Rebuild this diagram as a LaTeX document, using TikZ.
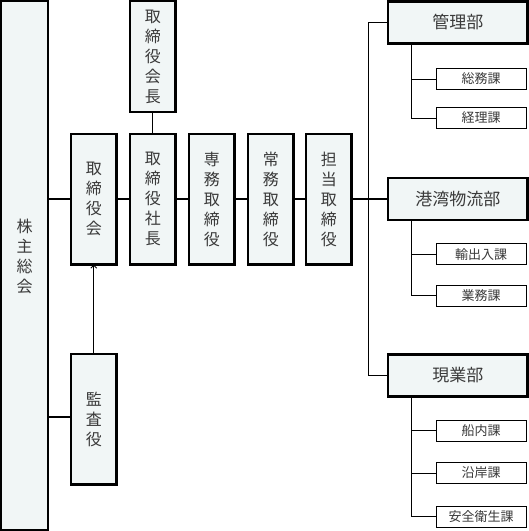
\documentclass[tikz,border=0pt]{standalone}
\usepackage{fontspec}
\newfontfamily\jp{Noto Sans CJK JP}
\usetikzlibrary{arrows.meta}
\definecolor{boxfill}{RGB}{241,246,246}
\definecolor{txt}{RGB}{58,58,58}
\begin{document}
\begin{tikzpicture}[x=1pt,y=-1pt,
  mainbox/.style={draw=black, line width=2.4pt, fill=boxfill, inner sep=0pt, outer sep=0pt,
    text=txt, font=\jp\fontsize{16}{20}\selectfont, align=center,
    minimum width=45.1pt, minimum height=130.6pt},
  vtext/.style={inner sep=0pt, text=txt, font=\jp\fontsize{16}{20}\selectfont, align=center},
  deptbox/.style={draw=black, line width=2.4pt, fill=boxfill, inner sep=0pt, outer sep=0pt,
    text=txt, font=\jp\fontsize{17}{20}\selectfont,
    minimum width=139.1pt, minimum height=42pt},
  secbox/.style={draw=black, line width=1pt, fill=white, inner sep=0pt, outer sep=0pt,
    text=txt, font=\jp\fontsize{13}{15}\selectfont,
    minimum width=90pt, minimum height=21pt},
  thickline/.style={line width=2pt},
  thinline/.style={line width=1pt}]
\useasboundingbox (0,0) rectangle (529,531);
% main boxes
\node[mainbox, minimum width=46.6pt, minimum height=528.6pt] (kabu) at (24.5,265.5) {};
\node[vtext] (kabutext) at ([yshift=9pt]kabu.center) {株\\主\\総\\会};
\node[mainbox] (torikai) at (93.75,199.2) {取\\締\\役\\会};
\node[mainbox] (kansa) at (93.75,419.3) {監\\査\\役};
\node[mainbox, minimum height=110.9pt] (kaicho) at (152.75,56.65) {取\\締\\役\\会\\長};
\node[mainbox] (shacho) at (152.75,199.2) {取\\締\\役\\社\\長};
\node[mainbox] (senmu) at (211.75,199.2) {専\\務\\取\\締\\役};
\node[mainbox] (jomu) at (270.75,199.2) {常\\務\\取\\締\\役};
\node[mainbox] (tanto) at (328.75,199.2) {担\\当\\取\\締\\役};
% departments
\node[deptbox] (kanri) at (457.75,22.4) {管理部};
\node[deptbox] (kowan) at (457.75,199.2) {港湾物流部};
\node[deptbox] (gengyo) at (457.75,375.5) {現業部};
% sections
\node[secbox] (somu) at (481.2,79) {総務課};
\node[secbox] (keiri) at (481.2,118) {経理課};
\node[secbox] (yushutsu) at (481.2,254.2) {輸出入課};
\node[secbox] (gyomu) at (481.2,295.5) {業務課};
\node[secbox] (sennai) at (481.2,430.5) {船内課};
\node[secbox] (engan) at (481.2,473) {沿岸課};
\node[secbox] (anzen) at (481.2,516.5) {安全衛生課};
% connectors
\draw[thickline] (torikai.west) -- (torikai.west -| kabu.east);
\draw[thickline] (torikai.east) -- (shacho.west);
\draw[thickline] (shacho.east) -- (senmu.west);
\draw[thickline] (senmu.east) -- (jomu.west);
\draw[thickline] (jomu.east) -- (tanto.west);
\draw[thickline] (tanto.east) -- (kowan.west);
\draw[thickline] ([yshift=2.6pt]kansa.west) -- ([yshift=2.6pt]kansa.west -| kabu.east);
\draw[thinline] (kaicho.south) -- (shacho.north);
\draw[thinline, -{Straight Barb[length=3pt,width=6pt]}] (kansa.north) -- (torikai.south);
\draw[thinline] (kanri.west) -- ++(-20,0) |- (gengyo.west);
\draw[thinline] ([xshift=-46.75pt]kanri.south) |- (somu.west);
\draw[thinline] ([xshift=-46.75pt]kanri.south) |- (keiri.west);
\draw[thinline] ([xshift=-46.75pt]kowan.south) |- (yushutsu.west);
\draw[thinline] ([xshift=-46.75pt]kowan.south) |- (gyomu.west);
\draw[thinline] ([xshift=-46.75pt]gengyo.south) |- (sennai.west);
\draw[thinline] ([xshift=-46.75pt]gengyo.south) |- (engan.west);
\draw[thinline] ([xshift=-46.75pt]gengyo.south) |- (anzen.west);
\end{tikzpicture}
\end{document}
